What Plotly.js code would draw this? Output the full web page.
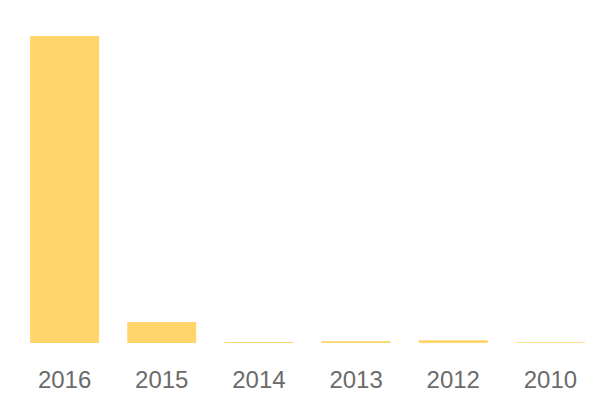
<!DOCTYPE html>
<html><head><meta charset="utf-8">
<script src="https://cdn.plot.ly/plotly-3.0.1.min.js"></script>
<style>html,body{margin:0;padding:0;background:#fff}#c{width:600px;height:400px}</style>
</head><body><div id="c"></div>
<script>
var years = ['2016', '2015', '2014', '2013', '2012', '2010'];
var counts = [1500, 103, 5, 9, 14, 4];

Plotly.newPlot('c', [{
  type: 'bar',
  x: years,
  y: counts,
  marker: {color: '#FFD56B'},
  hoverinfo: 'x+y'
}], {
  width: 600, height: 400,
  margin: {l: 16, r: 1, t: 36, b: 57},
  bargap: 0.29,
  paper_bgcolor: '#fff', plot_bgcolor: '#fff',
  font: {family: 'Liberation Sans, Arial, sans-serif'},
  xaxis: {type: 'category', showgrid: false, zeroline: false, showline: false,
          tickfont: {size: 24, color: '#6b6b6b'}, ticks: '', ticklabelstandoff: 20},
  yaxis: {range: [0, 1500], visible: false, showgrid: false, zeroline: false},
  showlegend: false
}, {displayModeBar: false, staticPlot: true});
</script></body></html>
